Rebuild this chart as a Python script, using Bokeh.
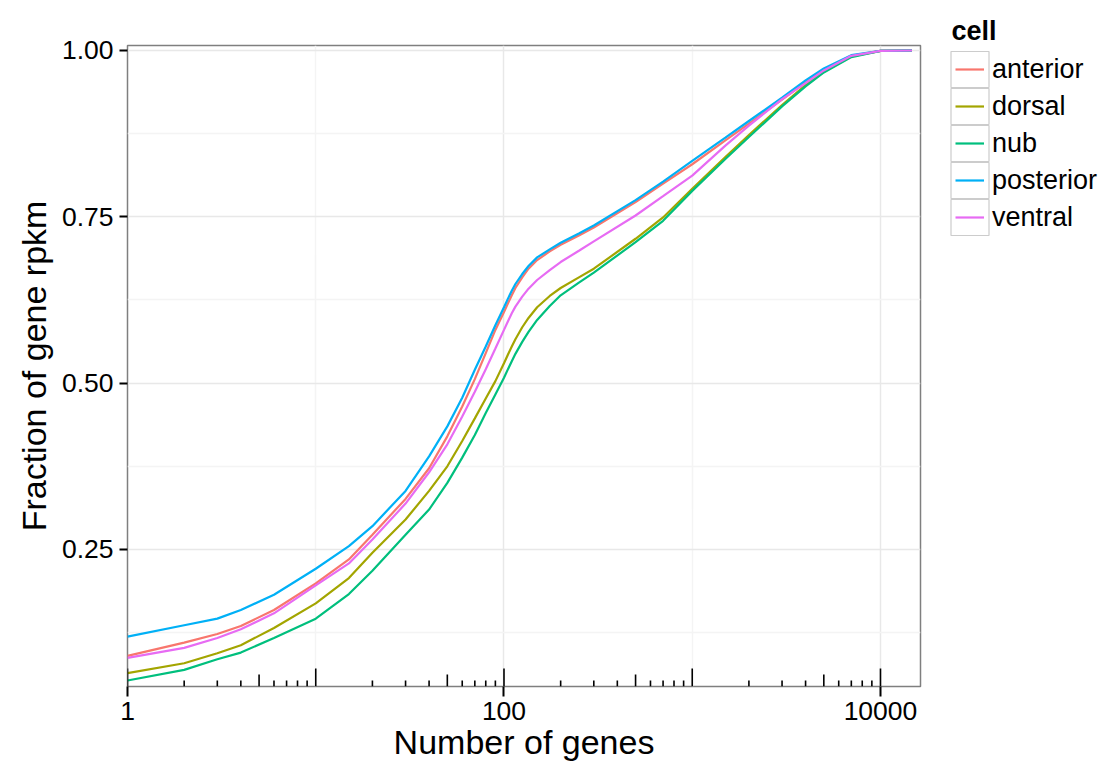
from bokeh.plotting import figure
from bokeh.layouts import row
from bokeh.models import (Range1d, FixedTicker, Legend, LegendItem, NumeralTickFormatter,
                          Title)
from bokeh.embed import file_html
from bokeh.resources import INLINE

# ---------------- data ----------------
genes = [1, 2, 3, 4, 6, 10, 15, 20, 30, 40, 50, 60, 70, 80, 90, 100, 105, 110, 115, 125,
         135, 150, 175, 200, 250, 300, 500, 700, 1000, 1500, 2000, 3000, 4000, 5000, 7000,
         10000, 14700]

anterior = [0.090, 0.110, 0.123, 0.135, 0.159, 0.199, 0.235, 0.272, 0.326, 0.372, 0.420,
            0.465, 0.506, 0.545, 0.580, 0.607, 0.620, 0.632, 0.643, 0.659, 0.672, 0.685,
            0.698, 0.708, 0.722, 0.734, 0.772, 0.800, 0.829, 0.865, 0.890, 0.926, 0.952,
            0.971, 0.992, 0.9995, 1.000]
dorsal = [0.064, 0.079, 0.094, 0.106, 0.132, 0.169, 0.207, 0.245, 0.295, 0.338, 0.375,
          0.413, 0.447, 0.477, 0.503, 0.530, 0.543, 0.555, 0.566, 0.584, 0.598, 0.614,
          0.631, 0.643, 0.659, 0.672, 0.717, 0.749, 0.792, 0.840, 0.873, 0.918, 0.948,
          0.968, 0.991, 0.9995, 1.000]
nub = [0.053, 0.069, 0.085, 0.095, 0.117, 0.146, 0.183, 0.218, 0.272, 0.310, 0.350,
       0.388, 0.422, 0.455, 0.483, 0.508, 0.521, 0.533, 0.544, 0.562, 0.577, 0.595,
       0.616, 0.632, 0.651, 0.666, 0.712, 0.744, 0.789, 0.837, 0.870, 0.916, 0.946,
       0.967, 0.990, 0.9995, 1.000]
posterior = [0.119, 0.136, 0.146, 0.159, 0.182, 0.221, 0.255, 0.285, 0.338, 0.390, 0.435,
             0.478, 0.520, 0.555, 0.587, 0.614, 0.627, 0.639, 0.649, 0.664, 0.676, 0.689,
             0.701, 0.711, 0.725, 0.737, 0.775, 0.803, 0.834, 0.869, 0.894, 0.929, 0.955,
             0.973, 0.993, 0.9995, 1.000]
ventral = [0.087, 0.102, 0.117, 0.130, 0.154, 0.196, 0.229, 0.265, 0.319, 0.366, 0.408,
           0.450, 0.487, 0.521, 0.552, 0.580, 0.593, 0.605, 0.615, 0.630, 0.642, 0.655,
           0.670, 0.682, 0.699, 0.713, 0.752, 0.781, 0.812, 0.857, 0.887, 0.927, 0.951,
           0.970, 0.992, 0.9995, 1.000]

cells = ["anterior", "dorsal", "nub", "posterior", "ventral"]
colors = ["#F8766D", "#A3A500", "#00BF7D", "#00B0F6", "#E76BF3"]
series = [anterior, dorsal, nub, posterior, ventral]

x_ticks = [1, 100, 10000]
x_minor = [10, 1000]
y_ticks = [0.25, 0.50, 0.75, 1.00]
y_minor = [0.125, 0.375, 0.625, 0.875]

# ---------------- layout ----------------
XMIN, XMAX = 1, 16315
YMIN, YMAX = 0.044, 1.0075
FRAME_W, FRAME_H = 793, 641
TOP, LEFT, BOTTOM = 45, 127, 78
FONT = "Liberation Sans"
LW = 2.2

p = figure(x_axis_type="log",
           x_range=Range1d(XMIN, XMAX), y_range=Range1d(YMIN, YMAX),
           frame_width=FRAME_W, frame_height=FRAME_H,
           min_border_left=LEFT, min_border_right=20,
           min_border_top=TOP, min_border_bottom=BOTTOM,
           output_backend="svg", toolbar_location=None,
           x_axis_label="Number of genes", y_axis_label="Fraction of gene rpkm",
           background_fill_color="white", border_fill_color="white")

p.outline_line_color = "#7f7f7f"
p.outline_line_width = 1.5

for ax in (p.xaxis[0], p.yaxis[0]):
    ax.axis_line_color = None
    ax.major_tick_line_color = "black"
    ax.major_tick_line_width = 2
    ax.major_tick_in = 0
    ax.minor_tick_line_color = None
    ax.major_label_text_font = FONT
    ax.major_label_text_font_size = "26.5px"
    ax.major_label_text_color = "black"
    ax.axis_label_text_font = FONT
    ax.axis_label_text_font_size = "34px"
    ax.axis_label_text_font_style = "normal"
    ax.axis_label_text_color = "black"

p.xaxis.ticker = FixedTicker(ticks=x_ticks, minor_ticks=x_minor)
p.xaxis.formatter = NumeralTickFormatter(format="0")
p.xaxis.major_tick_out = 10
p.xaxis.major_label_standoff = 5
p.xaxis.axis_label_standoff = 0

p.yaxis.ticker = FixedTicker(ticks=y_ticks, minor_ticks=y_minor)
p.yaxis.formatter = NumeralTickFormatter(format="0.00")
p.yaxis.major_tick_out = 8
p.yaxis.major_label_standoff = 6
p.yaxis.axis_label_standoff = 6

for g in (p.xgrid[0], p.ygrid[0]):
    g.grid_line_color = "#e8e8e8"
    g.grid_line_width = 1.5
    g.minor_grid_line_color = "#f4f4f4"
    g.minor_grid_line_width = 1.5

for name, vals, col in zip(cells, series, colors):
    p.line(genes, vals, line_color=col, line_width=LW)

# log ticks along the bottom of the panel (annotation_logticks)
unit = (YMAX - YMIN) / FRAME_H
lt_x, lt_y1 = [], []
for k in range(0, 5):
    for m in range(1, 10):
        v = m * 10 ** k
        if v > XMAX:
            continue
        L = 18 if m == 1 else (12 if m == 5 else 6)
        lt_x.append(v)
        lt_y1.append(YMIN + L * unit)
p.segment(x0=lt_x, y0=[YMIN] * len(lt_x), x1=lt_x, y1=lt_y1,
          line_color="black", line_width=1.6)

# ---------------- legend (separate canvas to the right) ----------------
NAN = float("nan")
P_W = LEFT + FRAME_W + 20          # width of the main canvas
LEG_W = 1098 - P_W
# legend canvas frame is aligned with the main frame; use pixel-like coordinates
lf = figure(width=LEG_W, height=TOP + FRAME_H + BOTTOM,
            x_range=Range1d(0, LEG_W), y_range=Range1d(FRAME_H, 0),
            x_axis_location=None, y_axis_location=None, min_border=0,
            output_backend="svg", toolbar_location=None,
            outline_line_color=None, background_fill_color="white",
            border_fill_color="white")
lf.xgrid.visible = False
lf.ygrid.visible = False

lf.add_layout(Title(text="cell", align="left", offset=11, standoff=0,
                    text_font=FONT, text_font_size="27px", text_font_style="bold",
                    text_color="black"), "above")

# legend geometry
KEY_X0, KEY_W, KEY_H, KEY_GAP = 15, 29, 36, 1
LEG_BOTTOM_OFF = 451
n = len(cells)
items_h = n * KEY_H + (n - 1) * KEY_GAP
items_top = FRAME_H - LEG_BOTTOM_OFF - items_h
PAD = 4.5
box_top = [items_top + i * (KEY_H + KEY_GAP) for i in range(n)]
lf.quad(left=[KEY_X0 - PAD] * n, right=[KEY_X0 + KEY_W + PAD] * n,
        top=box_top, bottom=[t + KEY_H for t in box_top],
        fill_color="white", line_color="#cccccc", line_width=1.2)

leg_lines = []
for col in colors:
    leg_lines.append(lf.line(x=[NAN], y=[NAN], line_color=col, line_width=LW))

legB = Legend(items=[LegendItem(label=c, renderers=[r]) for c, r in zip(cells, leg_lines)],
              location=(KEY_X0, LEG_BOTTOM_OFF), glyph_width=KEY_W, glyph_height=KEY_H,
              label_height=KEY_H, spacing=KEY_GAP, padding=0, margin=0, label_standoff=8,
              label_text_font=FONT, label_text_font_size="27px",
              label_text_color="black",
              background_fill_alpha=0, border_line_color=None)
lf.add_layout(legB)

layout = row(p, lf, spacing=0)
open("out.html", "w").write(file_html(layout, INLINE))
